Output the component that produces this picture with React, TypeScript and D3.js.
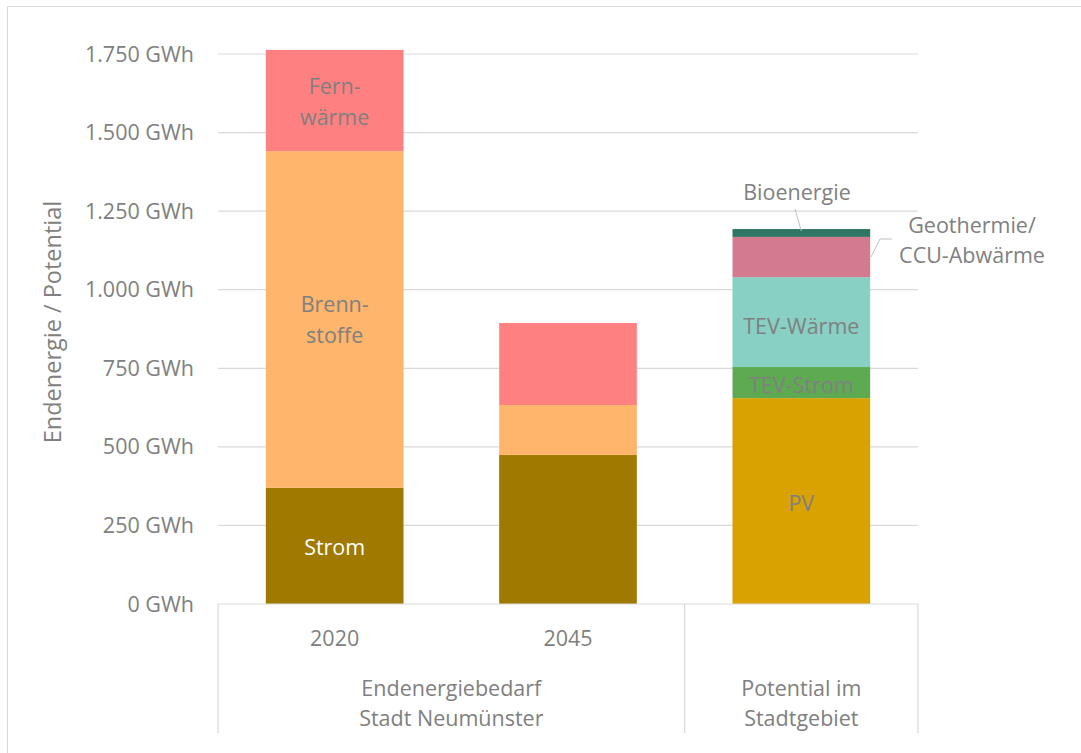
import React from "react";
import * as d3 from "d3";

const categories = ["2020", "2045", "Potential"];
const groupLabels = [
  { lines: ["Endenergiebedarf", "Stadt Neumünster"], from: 0, to: 1 },
  { lines: ["Potential im", "Stadtgebiet"], from: 2, to: 2 },
];
const seriesNames = ["Strom", "Brennstoffe", "Fernwärme", "PV", "TEV-Strom", "TEV-Wärme", "Geothermie/CCU-Abwärme", "Bioenergie"];
const strom = [370, 474, 0];
const brennstoffe = [1071, 159, 0];
const fernwaerme = [322, 261, 0];
const pv = [0, 0, 655];
const tevStrom = [0, 0, 99];
const tevWaerme = [0, 0, 286];
const geothermie = [0, 0, 128];
const bioenergie = [0, 0, 25];
const yTicks = [0, 250, 500, 750, 1000, 1250, 1500, 1750];
const colors = ["#A07A00", "#FFB56C", "#FF8080", "#D9A200", "#5EAA51", "#88CFC4", "#D47A8E", "#2E7564"];

const W = 1081, H = 753;
const plotLeft = 218, plotRight = 918, plotTop = 54, plotBottom = 604;
const FONT = "'Open Sans', 'DejaVu Sans', sans-serif";
const GRAY = "#808080";
const FS = 21.5;

export default function App() {
  const seriesVals = [strom, brennstoffe, fernwaerme, pv, tevStrom, tevWaerme, geothermie, bioenergie];
  const rows = categories.map((c, i) => {
    const r: any = { cat: c };
    seriesNames.forEach((s, j) => (r[s] = seriesVals[j][i]));
    return r;
  });
  const stacked = d3.stack().keys(seriesNames)(rows);
  const x = d3.scaleBand().domain(categories).range([plotLeft, plotRight]).paddingInner(0.41).paddingOuter(0.205);
  const y = d3.scaleLinear().domain([0, 1750]).range([plotBottom, plotTop]);
  const fmt = (v: number) => d3.format(",")(v).replace(/,/g, ".") + " GWh";
  const step = (plotRight - plotLeft) / categories.length;
  const cx = (i: number) => (x(categories[i]) as number) + x.bandwidth() / 2;
  const segMid = (si: number, ci: number) => {
    const d = stacked[si][ci];
    return (y(d[0]) + y(d[1])) / 2;
  };

  const inBarLabels: { s: number; c: number; lines: string[]; color: string; dy?: number }[] = [
    { s: 0, c: 0, lines: ["Strom"], color: "#FFFFFF", dy: 2 },
    { s: 1, c: 0, lines: ["Brenn-", "stoffe"], color: GRAY, dy: 1 },
    { s: 2, c: 0, lines: ["Fern-", "wärme"], color: GRAY, dy: 1 },
    { s: 3, c: 2, lines: ["PV"], color: GRAY, dy: 2 },
    { s: 4, c: 2, lines: ["TEV-Strom"], color: GRAY, dy: 3 },
    { s: 5, c: 2, lines: ["TEV-Wärme"], color: GRAY, dy: 4 },
  ];

  return (
    <svg width={W} height={H} style={{ position: "absolute", left: 0, top: 0, background: "#fff" }} fontFamily={FONT}>
      <rect x={7.5} y={6.5} width={W + 20} height={H + 20} fill="none" stroke="#D9D9D9" />
      {yTicks.map((t) => (
        <g key={t}>
          {t > 0 && <line x1={plotLeft} x2={plotRight} y1={y(t)} y2={y(t)} stroke="#D9D9D9" strokeWidth={1.2} />}
          <text x={194} y={y(t)} dy="0.35em" textAnchor="end" fontSize={FS} fill={GRAY}>
            {fmt(t)}
          </text>
        </g>
      ))}
      {stacked.map((s, si) =>
        s.map((d, ci) =>
          d[1] - d[0] > 0 ? (
            <rect
              key={si + "-" + ci}
              x={x(categories[ci])}
              y={y(d[1])}
              width={x.bandwidth()}
              height={y(d[0]) - y(d[1])}
              fill={colors[si]}
            />
          ) : null
        )
      )}
      {/* category axis */}
      <line x1={plotLeft} x2={plotRight} y1={plotBottom} y2={plotBottom} stroke="#D9D9D9" strokeWidth={1.2} />
      {[0, 2, 3].map((k) => (
        <line key={k} x1={plotLeft + k * step} x2={plotLeft + k * step} y1={plotBottom} y2={733} stroke="#D9D9D9" strokeWidth={1.2} />
      ))}
      {categories.map((c, i) =>
        i < 2 ? (
          <text key={c} x={cx(i)} y={638} dy="0.35em" textAnchor="middle" fontSize={FS} fill={GRAY}>
            {c}
          </text>
        ) : null
      )}
      {groupLabels.map((g, gi) => {
        const mx = (cx(g.from) + cx(g.to)) / 2;
        return g.lines.map((l, li) => (
          <text key={gi + "-" + li} x={mx} y={688 + li * 30} dy="0.35em" textAnchor="middle" fontSize={FS} fill={GRAY}>
            {l}
          </text>
        ));
      })}
      {/* in-bar labels */}
      {inBarLabels.map((lb, k) => {
        const my = segMid(lb.s, lb.c) + (lb.dy || 0);
        const n = lb.lines.length;
        return lb.lines.map((l, li) => (
          <text key={k + "-" + li} x={cx(lb.c)} y={my + (li - (n - 1) / 2) * 31} dy="0.35em" textAnchor="middle" fontSize={FS} fill={lb.color}>
            {l}
          </text>
        ));
      })}
      {/* callouts */}
      <text x={797} y={192} dy="0.35em" textAnchor="middle" fontSize={FS} fill={GRAY}>Bioenergie</text>
      <polyline points={`795,209 ${cx(2)},${y(1193) + 2}`} fill="none" stroke="#BFBFBF" />
      <text x={972} y={225} dy="0.35em" textAnchor="middle" fontSize={FS} fill={GRAY}>Geothermie/</text>
      <text x={972} y={255} dy="0.35em" textAnchor="middle" fontSize={FS} fill={GRAY}>CCU-Abwärme</text>
      <polyline points="871,257 880,239 892,239" fill="none" stroke="#BFBFBF" />
      {/* y title */}
      <text transform="translate(53,322) rotate(-90)" dy="0.35em" textAnchor="middle" fontSize={23.5} fill={GRAY}>
        Endenergie / Potential
      </text>
    </svg>
  );
}
